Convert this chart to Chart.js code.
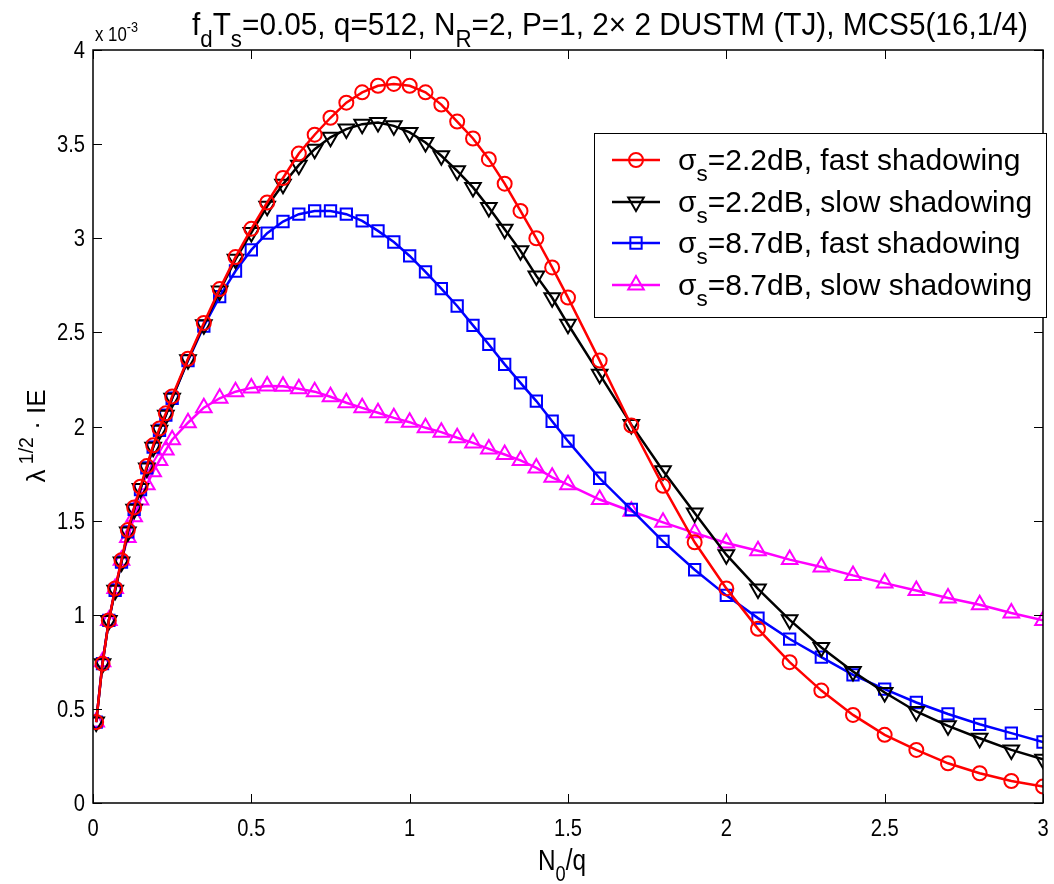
<!DOCTYPE html>
<html>
<head>
<meta charset="utf-8">
<script src="https://cdn.jsdelivr.net/npm/chart.js@4.4.1/dist/chart.umd.min.js"></script>
<style>
html,body{margin:0;padding:0;background:#fff;}
#wrap{width:1054px;height:884px;}
</style>
</head>
<body>
<div id="wrap"><canvas id="c" width="1054" height="884"></canvas></div>
<script>
// ---- data (y values in units of 10^-3) ----
const xValues = [0.01,0.03,0.05,0.07,0.09,0.11,0.13,0.15,0.17,0.19,0.21,0.23,0.25,
  0.30,0.35,0.40,0.45,0.50,0.55,0.60,0.65,0.70,0.75,0.80,0.85,0.90,0.95,1.00,1.05,1.10,1.15,1.20,1.25,1.30,1.35,1.40,1.45,1.50,
  1.6,1.7,1.8,1.9,2.0,2.1,2.2,2.3,2.4,2.5,2.6,2.7,2.8,2.9,3.0];

const fast22 = [0.43,0.74,0.97,1.14,1.29,1.45,1.57,1.68,1.79,1.90,1.99,2.07,2.16,
  2.36,2.55,2.73,2.90,3.05,3.19,3.32,3.45,3.55,3.64,3.72,3.775,3.81,3.82,3.81,3.775,3.71,3.62,3.53,3.42,3.29,3.145,3.00,2.845,2.685,
  2.35,2.005,1.685,1.385,1.14,0.925,0.748,0.597,0.468,0.362,0.282,0.211,0.158,0.117,0.087];

const slow22 = [0.43,0.74,0.97,1.13,1.28,1.44,1.56,1.67,1.78,1.89,1.98,2.06,2.15,
  2.355,2.54,2.72,2.888,3.03,3.17,3.287,3.388,3.473,3.536,3.58,3.606,3.615,3.597,3.562,3.509,3.438,3.358,3.27,3.163,3.048,2.933,2.80,2.684,2.543,
  2.277,2.01,1.765,1.54,1.319,1.137,0.973,0.826,0.698,0.587,0.486,0.41,0.344,0.282,0.232];

const fast87 = [0.43,0.74,0.97,1.13,1.28,1.44,1.56,1.665,1.78,1.89,1.98,2.06,2.15,
  2.35,2.533,2.69,2.826,2.938,3.027,3.089,3.128,3.145,3.145,3.128,3.092,3.039,2.98,2.906,2.821,2.732,2.64,2.537,2.436,2.33,2.232,2.135,2.028,1.922,
  1.725,1.559,1.39,1.239,1.103,0.982,0.871,0.775,0.681,0.605,0.534,0.473,0.418,0.371,0.324];

const slow87 = [0.43,0.75,0.97,1.14,1.29,1.41,1.52,1.61,1.69,1.76,1.82,1.875,1.93,
  2.02,2.10,2.15,2.185,2.205,2.215,2.214,2.20,2.185,2.158,2.126,2.099,2.073,2.046,2.023,1.993,1.97,1.94,1.913,1.881,1.851,1.82,1.78,1.73,1.691,
  1.612,1.55,1.491,1.435,1.381,1.34,1.293,1.254,1.209,1.168,1.129,1.089,1.053,1.009,0.97];

const xTicks = [0,0.5,1,1.5,2,2.5,3];
const yTicks = [0,0.5,1,1.5,2,2.5,3,3.5,4];
const xTickLabels = ['0','0.5','1','1.5','2','2.5','3'];
const yTickLabels = ['0','0.5','1','1.5','2','2.5','3','3.5','4'];

const seriesNames = [
  ["σ","s","=2.2dB, fast shadowing"],
  ["σ","s","=2.2dB, slow shadowing"],
  ["σ","s","=8.7dB, fast shadowing"],
  ["σ","s","=8.7dB, slow shadowing"]
];

const SANS = '"Liberation Sans",Arial,Helvetica,sans-serif';
const NARROW_X = 0.84; // horizontal squeeze to mimic narrow Helvetica rendering

function pts(ys){ return xValues.map((x,i)=>({x:x,y:ys[i]})); }

const colors = ['#ff0000','#000000','#0000ff','#ff00ff'];
const styles = [
  {pointStyle:'circle', radius:7, rotation:0},
  {pointStyle:'triangle', radius:9, rotation:180},
  {pointStyle:'rect', radius:8, rotation:0},
  {pointStyle:'triangle', radius:9, rotation:0}
];
const seriesData = [fast22, slow22, fast87, slow87];

const datasets = seriesData.map((d,i)=>({
  label: seriesNames[i].join(''),
  data: pts(d),
  borderColor: colors[i],
  backgroundColor: 'rgba(0,0,0,0)',
  borderWidth: 2.5,
  pointStyle: styles[i].pointStyle,
  pointRadius: styles[i].radius,
  pointRotation: styles[i].rotation,
  pointBorderWidth: 2,
  pointBorderColor: colors[i],
  pointBackgroundColor: 'rgba(0,0,0,0)',
  tension: 0,
  order: i
}));

function drawRich(ctx, parts, x, y, size, measureOnly){
  let cx = x;
  for (const p of parts){
    const s = p.sub||p.sup ? size*0.75 : size;
    ctx.font = s + 'px ' + SANS;
    const dy = p.sub ? size*0.38 : (p.sup ? -size*0.45 : 0);
    if(!measureOnly) ctx.fillText(p.t, cx, y+dy);
    cx += ctx.measureText(p.t).width;
  }
  return cx - x;
}
function drawSq(ctx, parts, x, y, size, sx, align){
  const w = drawRich(ctx, parts, 0, 0, size, true) * sx;
  let x0 = x;
  if (align==='center') x0 = x - w/2;
  else if (align==='right') x0 = x - w;
  ctx.save();
  ctx.translate(x0, y);
  ctx.scale(sx, 1);
  drawRich(ctx, parts, 0, 0, size);
  ctx.restore();
  return w;
}

const decor = {
  id:'decor',
  beforeDraw(chart){
    const ctx = chart.ctx;
    ctx.save(); ctx.fillStyle='#fff'; ctx.fillRect(0,0,chart.width,chart.height); ctx.restore();
  },
  afterDraw(chart){
    const ctx = chart.ctx;
    const a = chart.chartArea;
    const xs = chart.scales.x, ys = chart.scales.y;
    ctx.save();
    // inner ticks
    ctx.strokeStyle = '#000'; ctx.lineWidth = 1;
    const tl = 9;
    ctx.beginPath();
    xTicks.forEach(v=>{
      const px = Math.round(xs.getPixelForValue(v))+0.5;
      ctx.moveTo(px,a.bottom); ctx.lineTo(px,a.bottom-tl);
      ctx.moveTo(px,a.top); ctx.lineTo(px,a.top+tl);
    });
    yTicks.forEach(v=>{
      const py = Math.round(ys.getPixelForValue(v))+0.5;
      ctx.moveTo(a.left,py); ctx.lineTo(a.left+tl,py);
      ctx.moveTo(a.right,py); ctx.lineTo(a.right-tl,py);
    });
    ctx.stroke();
    // box
    ctx.lineWidth = 1.5;
    ctx.strokeRect(a.left, a.top, a.right-a.left, a.bottom-a.top);

    // tick labels
    ctx.fillStyle='#000'; ctx.textBaseline='alphabetic'; ctx.textAlign='left';
    xTicks.forEach((v,i)=>{
      drawSq(ctx,[{t:xTickLabels[i]}], xs.getPixelForValue(v), 836, 24, NARROW_X, 'center');
    });
    yTicks.forEach((v,i)=>{
      drawSq(ctx,[{t:yTickLabels[i]}], a.left-8, ys.getPixelForValue(v)+8, 24, NARROW_X, 'right');
    });

    // legend
    const lx0=594, ly0=133, lx1=1046, ly1=317;
    ctx.fillStyle='#fff'; ctx.fillRect(lx0,ly0,lx1-lx0,ly1-ly0);
    ctx.lineWidth=1; ctx.strokeStyle='#000';
    ctx.strokeRect(lx0+0.5,ly0+0.5,lx1-lx0,ly1-ly0);
    const rowY=[160,202,243,285];
    for(let i=0;i<4;i++){
      const y=rowY[i];
      ctx.strokeStyle=colors[i]; ctx.lineWidth=2.5;
      ctx.beginPath(); ctx.moveTo(612,y); ctx.lineTo(660,y); ctx.stroke();
      ctx.lineWidth=2;
      ctx.fillStyle='rgba(0,0,0,0)';
      Chart.helpers.drawPoint(ctx,{pointStyle:styles[i].pointStyle,rotation:styles[i].rotation,radius:styles[i].radius,borderWidth:2},636,y);
      ctx.fillStyle='#000';
      const n=seriesNames[i];
      drawRich(ctx,[{t:n[0]},{t:n[1],sub:true},{t:n[2]}],678,y+10,30);
    }

    // title
    ctx.fillStyle='#000';
    const titleParts=[{t:'f'},{t:'d',sub:true},{t:'T'},{t:'s',sub:true},{t:'=0.05, q=512, N'},{t:'R',sub:true},{t:'=2, P=1, 2× 2 DUSTM (TJ), MCS5(16,1/4)'}];
    const tw = drawRich(ctx,titleParts,0,0,31,true);
    const target = 1028-192;
    drawSq(ctx,titleParts,192,35,31,target/tw,'left');

    // exponent label
    drawSq(ctx,[{t:'x 10'},{t:'-3',sup:true}],95,41,20,NARROW_X,'left');

    // x axis label
    drawSq(ctx,[{t:'N'},{t:'0',sub:true},{t:'/q'}],562,870,29,NARROW_X,'center');

    // y axis label
    ctx.save();
    ctx.translate(45,436);
    ctx.rotate(-Math.PI/2);
    const ylParts=[{t:'λ'},{t:' 1/2',sup:true},{t:' · IE'}];
    const yw = drawRich(ctx,ylParts,0,0,26,true);
    drawRich(ctx,ylParts,-yw/2,0,26);
    ctx.restore();

    ctx.restore();
  }
};

new Chart(document.getElementById('c'),{
  type:'line',
  data:{datasets:datasets},
  options:{
    responsive:false,
    devicePixelRatio:1,
    animation:false,
    layout:{padding:{left:0,right:6,top:50,bottom:0}},
    plugins:{legend:{display:false},title:{display:false},tooltip:{enabled:false}},
    scales:{
      x:{
        type:'linear', min:0, max:3,
        afterFit(s){ s.height = 81; },
        afterBuildTicks(s){ s.ticks = xTicks.map(v=>({value:v})); },
        grid:{display:false, drawTicks:false},
        border:{display:false},
        ticks:{display:false}
      },
      y:{
        type:'linear', min:0, max:4,
        afterFit(s){ s.width = 93; },
        afterBuildTicks(s){ s.ticks = yTicks.map(v=>({value:v})); },
        grid:{display:false, drawTicks:false},
        border:{display:false},
        ticks:{display:false}
      }
    }
  },
  plugins:[decor]
});
</script>
</body>
</html>
